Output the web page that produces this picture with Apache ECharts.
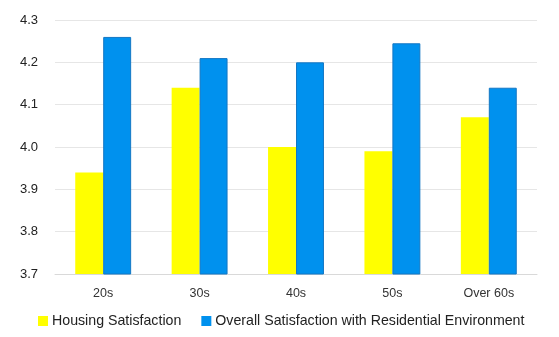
<!DOCTYPE html>
<html><head><meta charset="utf-8">
<script src="https://cdn.jsdelivr.net/npm/echarts@6/dist/echarts.min.js"></script>
<style>html,body{margin:0;padding:0;background:#fff}#c{width:559px;height:337px}</style>
</head><body><div id="c"></div>
<script>
const categories = ['20s', '30s', '40s', '50s', 'Over 60s'];
const housing = [3.94, 4.14, 4.00, 3.99, 4.07];
const overall = [4.26, 4.21, 4.20, 4.245, 4.14];
const yTicks = { min: 3.7, max: 4.3, interval: 0.1 };

const chart = echarts.init(document.getElementById('c'));
chart.setOption({
  animation: false,
  grid: { left: 55, right: 22, top: 20, bottom: 63 },
  legend: {
    top: 309, left: 33,
    itemWidth: 10, itemHeight: 10, itemGap: 20,
    icon: 'rect',
    itemStyle: { borderWidth: 0 },
    textStyle: { fontFamily: 'Liberation Sans', fontSize: 14.2, color: '#222', padding: [0,0,0,-1] },
    data: ['Housing Satisfaction', 'Overall Satisfaction with Residential Environment']
  },
  xAxis: {
    type: 'category', data: categories,
    axisLine: { lineStyle: { color: '#d9d9d9' } },
    axisTick: { show: false },
    axisLabel: { fontFamily: 'Liberation Sans', fontSize: 12.5, color: '#333', margin: 13 }
  },
  yAxis: {
    type: 'value', min: yTicks.min, max: yTicks.max, interval: yTicks.interval,
    axisLine: { show: false }, axisTick: { show: false },
    splitLine: { lineStyle: { color: '#e6e6e6' } },
    axisLabel: { fontFamily: 'Liberation Sans', fontSize: 13, color: '#222', margin: 17,
      formatter: v => v.toFixed(1) }
  },
  series: [
    { name: 'Housing Satisfaction', type: 'bar', data: housing, barWidth: '29%', barGap: '0%',
      itemStyle: { color: '#FFFF00' } },
    { name: 'Overall Satisfaction with Residential Environment', type: 'bar', data: overall, barWidth: '29%',
      itemStyle: { color: '#0091EE', borderColor: '#1377c4', borderWidth: 1 } }
  ]
});
</script></body></html>
